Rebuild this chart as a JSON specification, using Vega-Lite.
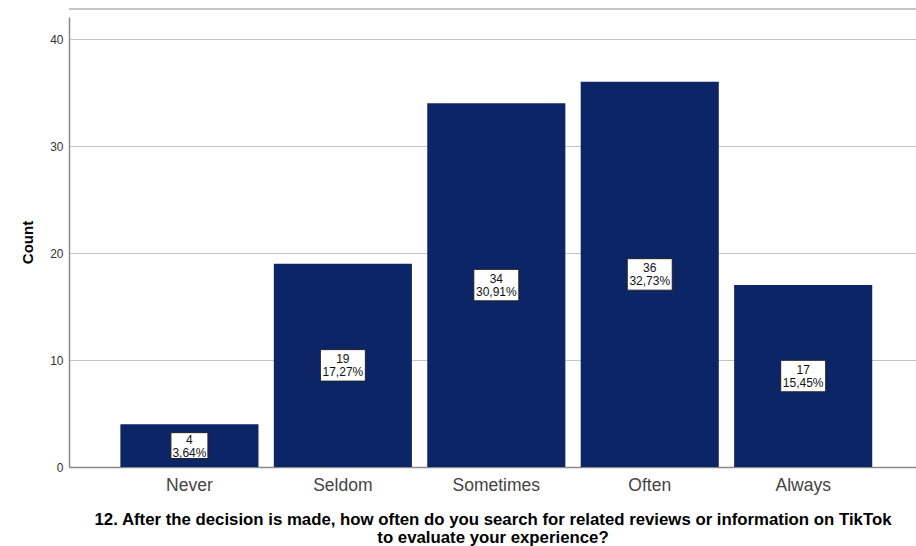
{
  "$schema": "https://vega.github.io/schema/vega-lite/v6.json",
  "width": 847,
  "height": 450,
  "autosize": {"type": "none"},
  "padding": {"left": 69, "top": 17, "right": 0, "bottom": 79},
  "background": "white",
  "config": {
    "view": {"stroke": null},
    "font": "Liberation Sans"
  },
  "data": {
    "values": [
      {"category": "Never", "count": 4, "pct": "3,64%"},
      {"category": "Seldom", "count": 19, "pct": "17,27%"},
      {"category": "Sometimes", "count": 34, "pct": "30,91%"},
      {"category": "Often", "count": 36, "pct": "32,73%"},
      {"category": "Always", "count": 17, "pct": "15,45%"}
    ]
  },
  "transform": [{"calculate": "datum.count / 2", "as": "mid"}],
  "layer": [
    {
      "mark": {"type": "bar", "color": "#0c2567"},
      "encoding": {
        "x": {
          "field": "category",
          "type": "nominal",
          "sort": null,
          "scale": {"paddingInner": 0.1, "paddingOuter": 0.31, "align": 0.54},
          "axis": {
            "title": ["12. After the decision is made, how often do you search for related reviews or information on TikTok", "to evaluate your experience?"],
            "titleFont": "Liberation Sans",
            "titleFontSize": 16.8,
            "titleFontWeight": "bold",
            "titleColor": "#000000",
            "titlePadding": 18,
            "titleLineHeight": 18,
            "labelAngle": 0,
            "labelFontSize": 17.5,
            "labelColor": "#444444",
            "labelPadding": 9,
            "ticks": false,
            "domainColor": "#8a8a8a",
            "domainWidth": 1.5,
            "grid": false
          }
        },
        "y": {
          "field": "count",
          "type": "quantitative",
          "scale": {"domain": [0, 42.06], "nice": false},
          "axis": {
            "title": "Count",
            "titleFontSize": 15,
            "titleFontWeight": "bold",
            "titleColor": "#000000",
            "titlePadding": 14,
            "values": [0, 10, 20, 30, 40],
            "labelFontSize": 12,
            "labelColor": "#333333",
            "labelPadding": 6,
            "ticks": false,
            "domainColor": "#8a8a8a",
            "domainWidth": 1.5,
            "gridColor": "#c4c4c4",
            "gridWidth": 1
          }
        }
      }
    },
    {
      "mark": {
        "type": "point",
        "shape": "M-1,-0.7H1V0.7H-1Z",
        "filled": true,
        "fill": "white",
        "stroke": "#222222",
        "strokeWidth": 1,
        "opacity": 1
      },
      "encoding": {
        "x": {"field": "category", "type": "nominal", "sort": null},
        "y": {"field": "mid", "type": "quantitative"},
        "size": {"condition": {"test": "datum.count < 10", "value": 1369}, "value": 2025}
      }
    },
    {
      "mark": {"type": "text", "dy": -6, "fontSize": 12, "color": "#111111", "baseline": "middle"},
      "encoding": {
        "x": {"field": "category", "type": "nominal", "sort": null},
        "y": {"field": "mid", "type": "quantitative"},
        "text": {"field": "count", "type": "quantitative"}
      }
    },
    {
      "mark": {"type": "text", "dy": 7, "fontSize": 12, "color": "#111111", "baseline": "middle"},
      "encoding": {
        "x": {"field": "category", "type": "nominal", "sort": null},
        "y": {"field": "mid", "type": "quantitative"},
        "text": {"field": "pct", "type": "nominal"}
      }
    },
    {
      "mark": {"type": "rule", "color": "#c4c4c4", "strokeWidth": 1.5, "clip": false},
      "encoding": {"y": {"datum": 42.8}}
    }
  ]
}
